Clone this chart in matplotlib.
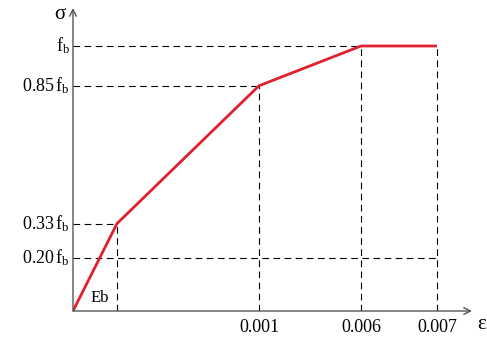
import numpy as np
import matplotlib.pyplot as plt

plt.rcParams['font.family'] = 'serif'
plt.rcParams['font.serif'] = ['Liberation Serif', 'DejaVu Serif']
plt.rcParams['mathtext.fontset'] = 'custom'
plt.rcParams['mathtext.rm'] = 'Liberation Serif'
plt.rcParams['mathtext.it'] = 'Liberation Serif:italic'

# schematic strain axis (not to scale), stress as fraction of fb
strain_pos = [0.0, 0.44, 1.86, 2.88, 3.64]
strain_labels = ['', '', '0.001', '0.006', '0.007']
stress = [0.0, 0.33, 0.85, 1.0, 1.0]
stress_ticks = [0.20, 0.33, 0.85, 1.0]
stress_labels = ['0.20', '0.33', '0.85', '']

red = '#e0202c'
grey = '#555555'

fig = plt.figure(figsize=(4.87, 3.41), dpi=100)
ax = fig.add_axes([73/487, 30/341, (472-73)/487, (311-8)/341])
ax.set_xlim(0, 3.99)
ax.set_ylim(0, 303/265)
ax.axis('off')

# axes with arrows
ax.annotate('', xy=(1, 0), xytext=(0, 0), xycoords='axes fraction',
            arrowprops=dict(arrowstyle='->', color=grey, lw=1.0,
                            mutation_scale=12, shrinkA=0, shrinkB=0))
ax.annotate('', xy=(0, 1), xytext=(0, 0), xycoords='axes fraction',
            arrowprops=dict(arrowstyle='->', color=grey, lw=1.0,
                            mutation_scale=12, shrinkA=0, shrinkB=0))

dash = dict(color='black', lw=0.8, ls=(0, (6, 4)))
# vertical dashed guides
for x, y in zip(strain_pos[1:], stress[1:]):
    ax.plot([x, x], [0, y], **dash)
# horizontal dashed guides
for x, y in zip(strain_pos[1:4], stress[1:4]):
    ax.plot([0, x], [y, y], **dash)
ax.plot([0, strain_pos[-1]], [stress_ticks[0]] * 2, **dash)

ax.plot(strain_pos, stress, color=red, lw=2.0, solid_capstyle='butt')

# tick labels
fs = 13
for y, lab in zip(stress_ticks, stress_labels):
    txt = lab + r'$\,\mathrm{f_b}$' if lab else r'$\mathrm{f_b}$'
    ax.text(-0.03, y, txt, ha='right', va='center', fontsize=fs)
for x, lab in zip(strain_pos, strain_labels):
    if lab:
        ax.text(x, -0.03, lab, ha='center', va='top', fontsize=fs)

ax.text(0.27, 0.05, 'Eb', ha='center', va='center', fontsize=12)
ax.text(-0.13, 1.12, r'$\mathrm{\sigma}$', ha='center', va='center', fontsize=15)
ax.text(4.09, -0.05, r'$\mathrm{\varepsilon}$', ha='center', va='center', fontsize=15)

fig.savefig('out.png', dpi=100)
